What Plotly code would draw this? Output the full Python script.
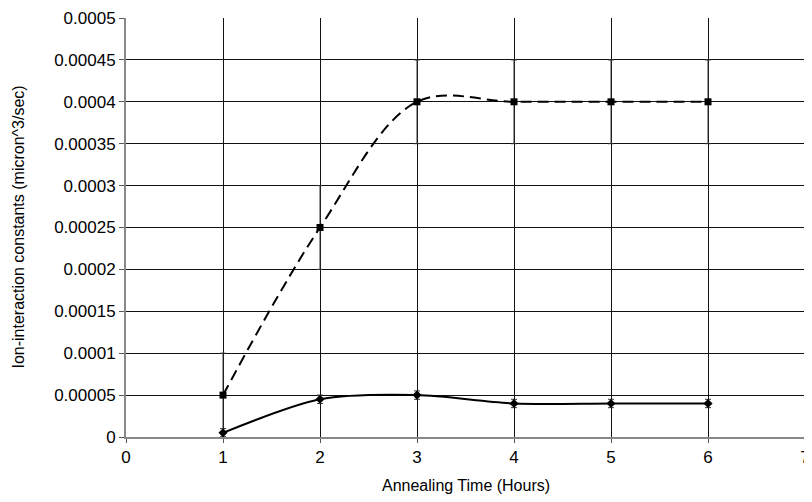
import plotly.graph_objects as go

hours = [1, 2, 3, 4, 5, 6]
upper_vals = [0.00005, 0.00025, 0.0004, 0.0004, 0.0004, 0.0004]
upper_err = [0.00005, 0.00005, 0.00005, 0.00005, 0.00005, 0.00005]
lower_vals = [0.000005, 0.000045, 0.00005, 0.00004, 0.00004, 0.00004]
lower_err = [0.000005, 0.000005, 0.000005, 0.000005, 0.000005, 0.000005]
y_ticks = [0, 0.00005, 0.0001, 0.00015, 0.0002, 0.00025, 0.0003, 0.00035, 0.0004, 0.00045, 0.0005]
y_labels = ["0", "0.00005", "0.0001", "0.00015", "0.0002", "0.00025", "0.0003", "0.00035", "0.0004", "0.00045", "0.0005"]
x_ticks = [0, 1, 2, 3, 4, 5, 6, 7]
x_title = "Annealing Time (Hours)"
y_title = "Ion-interaction constants (micron^3/sec)"

fig = go.Figure()
fig.add_trace(go.Scatter(
    x=hours, y=upper_vals, mode="lines+markers",
    line=dict(color="black", width=2, dash="11px,6px", shape="spline", smoothing=1.0),
    marker=dict(symbol="square", size=7, color="black"),
    error_y=dict(type="data", array=upper_err, color="#333", thickness=1, width=3),
    showlegend=False,
))
fig.add_trace(go.Scatter(
    x=hours, y=lower_vals, mode="lines+markers",
    line=dict(color="black", width=2, shape="spline", smoothing=0.8),
    marker=dict(symbol="diamond", size=7, color="black"),
    error_y=dict(type="data", array=lower_err, color="#333", thickness=1, width=3),
    showlegend=False,
))

fig.update_layout(
    width=804, height=494,
    margin=dict(l=118, r=7, t=10, b=65),
    paper_bgcolor="white", plot_bgcolor="white",
    font=dict(family="Liberation Sans, Arial, sans-serif", size=17, color="black"),
)
fig.update_xaxes(
    range=[0, 7], tickvals=x_ticks, ticktext=[str(v) for v in x_ticks],
    tickfont=dict(size=17), ticklabeloverflow="allow",
    showgrid=True, gridcolor="#111", gridwidth=1,
    showline=True, linecolor="#888", linewidth=2, mirror=False,
    ticks="outside", ticklen=4, tickcolor="#555",
    zeroline=False, automargin=False,
)
fig.update_yaxes(
    range=[0, 0.0005], tickvals=y_ticks, ticktext=y_labels,
    tickfont=dict(size=17), ticklabeloverflow="allow",
    showgrid=True, gridcolor="#111", gridwidth=1,
    showline=True, linecolor="#888", linewidth=2,
    ticks="outside", ticklen=5, tickcolor="#555",
    zeroline=False, automargin=False,
)
fig.add_shape(type="line", xref="x", yref="paper", x0=7, x1=7, y0=0, y1=1,
              line=dict(color="#888", width=2))
fig.add_annotation(text=x_title, xref="paper", yref="paper", x=0.5, y=0,
                   xanchor="center", yanchor="middle", yshift=-48,
                   showarrow=False, font=dict(size=16))
fig.add_annotation(text=y_title, xref="paper", yref="paper", x=0, y=0.5,
                   xanchor="center", yanchor="middle", xshift=-108, textangle=-90,
                   showarrow=False, font=dict(size=16))

fig.write_html("out.html")
